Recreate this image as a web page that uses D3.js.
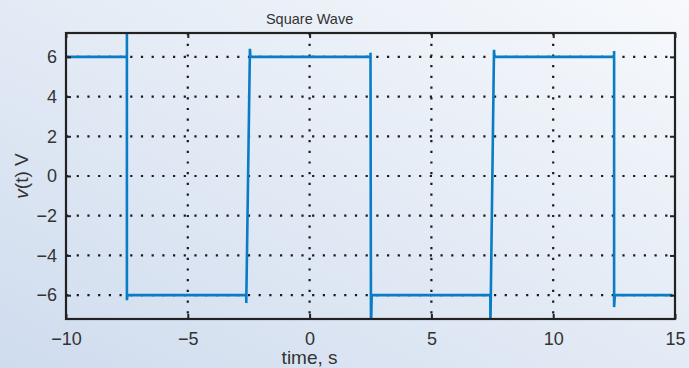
<!DOCTYPE html>
<html><head><meta charset="utf-8">
<script src="https://cdn.jsdelivr.net/npm/d3@7"></script>
<style>html,body{margin:0;padding:0;overflow:hidden}svg{display:block}</style>
</head><body>
<svg id="chart" width="689" height="368"></svg>
<script>
// Data: polyline vertices of the sampled square wave
const timeValues = [-10, -7.5, -7.5, -7.5, -7.48, -2.6, -2.6, -2.45, -2.43, 2.5, 2.5, 2.52, 2.55, 7.42, 7.42, 7.57, 7.59, 12.5, 12.5, 12.5, 12.53, 14.9];
const voltValues = [6, 6, 7.8, -6.25, -6, -6, -6.4, 6.4, 6, 6, 6.2, -7.8, -6, -6, -7.8, 6.35, 6, 6, 6.3, -6.6, -6, -6];
const xTicks = [-10, -5, 0, 5, 10, 15];
const yTicks = [-6, -4, -2, 0, 2, 4, 6];
const titleText = "Square Wave";
const xLabelText = "time, s";

const svg = d3.select("#chart");
const W = 689, H = 368;
const m = {left: 66, right: 675, top: 33, bottom: 319};

const defs = svg.append("defs");
const grad = defs.append("linearGradient").attr("id", "bg")
  .attr("x1", "0%").attr("y1", "100%").attr("x2", "100%").attr("y2", "0%");
grad.append("stop").attr("offset", "0%").attr("stop-color", "#cfdcee");
grad.append("stop").attr("offset", "100%").attr("stop-color", "#f7f9fc");
defs.append("clipPath").attr("id", "clip").append("rect")
  .attr("x", m.left).attr("y", m.top).attr("width", m.right - m.left).attr("height", m.bottom - m.top);

svg.append("rect").attr("width", W).attr("height", H).attr("fill", "url(#bg)");

const x = d3.scaleLinear().domain([-10, 15]).range([m.left, m.right]);
const y = d3.scaleLinear().domain([-7.2, 7.2]).range([m.bottom, m.top]);

const font = "'Liberation Sans', Arial, sans-serif";
const txt = "#333";

// grid
const grid = svg.append("g").attr("stroke", "#1a1a1a").attr("stroke-width", 2.2)
  .attr("stroke-dasharray", "2.2,8.5");
xTicks.filter(t => t > -10 && t < 15).forEach(t => {
  grid.append("line").attr("x1", x(t)).attr("x2", x(t)).attr("y1", m.top).attr("y2", m.bottom);
});
yTicks.forEach(t => {
  grid.append("line").attr("x1", m.left).attr("x2", m.right).attr("y1", y(t)).attr("y2", y(t));
});

// line
const pts = timeValues.map((t, i) => [t, voltValues[i]]);
svg.append("path").datum(pts)
  .attr("clip-path", "url(#clip)")
  .attr("fill", "none").attr("stroke", "#0a7cc6").attr("stroke-width", 2.6)
  .attr("stroke-linejoin", "miter")
  .attr("d", d3.line().x(d => x(d[0])).y(d => y(d[1])));

// axes (ticks inward on all sides)
const minus = s => String(s).replace("-", "\u2212");
const bottomAxis = d3.axisBottom(x).tickValues(xTicks).tickSizeInner(-5).tickSizeOuter(0).tickPadding(13).tickFormat(minus);
const leftAxis = d3.axisLeft(y).tickValues(yTicks).tickSizeInner(-5).tickSizeOuter(0).tickPadding(9).tickFormat(minus);
const topAxis = d3.axisTop(x).tickValues(xTicks).tickSizeInner(-5).tickSizeOuter(0).tickFormat("");
const rightAxis = d3.axisRight(y).tickValues(yTicks).tickSizeInner(-5).tickSizeOuter(0).tickFormat("");

function styleAxis(g) {
  g.select(".domain").remove();
  g.selectAll(".tick line").attr("stroke", "#222").attr("stroke-width", 2);
  g.selectAll(".tick text").attr("fill", txt).style("font-family", font).style("font-size", "18px");
}
svg.append("g").attr("transform", `translate(0,${m.bottom})`).call(bottomAxis).call(styleAxis);
svg.append("g").attr("transform", `translate(${m.left},0)`).call(leftAxis).call(styleAxis);
svg.append("g").attr("transform", `translate(0,${m.top})`).call(topAxis).call(styleAxis);
svg.append("g").attr("transform", `translate(${m.right},0)`).call(rightAxis).call(styleAxis);

// frame
svg.append("rect").attr("x", m.left).attr("y", m.top)
  .attr("width", m.right - m.left).attr("height", m.bottom - m.top)
  .attr("fill", "none").attr("stroke", "#222").attr("stroke-width", 2.2);

// title and labels
svg.append("text").attr("x", x(0)).attr("y", 24).attr("text-anchor", "middle")
  .attr("fill", txt).style("font-family", font).style("font-size", "14.5px").text(titleText);
svg.append("text").attr("x", x(0)).attr("y", 364).attr("text-anchor", "middle")
  .attr("fill", txt).style("font-family", font).style("font-size", "19px").text(xLabelText);
const yl = svg.append("text").attr("transform", `translate(28,${y(0)}) rotate(-90)`)
  .attr("text-anchor", "middle").attr("fill", txt).style("font-family", font).style("font-size", "19px");
yl.append("tspan").style("font-style", "italic").text("v");
yl.append("tspan").text("(t) V");
</script>
</body></html>
